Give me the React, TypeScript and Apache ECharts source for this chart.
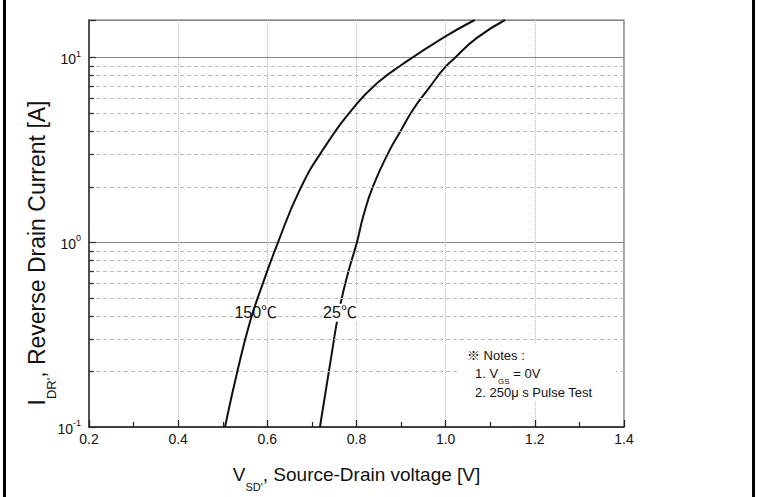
import React, { useEffect, useRef } from "react";
import * as echarts from "echarts";

// 150 °C curve (V_SD [V], I_DR [A])
const v150 = [0.505, 0.534, 0.561, 0.583, 0.624, 0.673, 0.725, 0.800, 0.850, 0.900, 0.994, 1.065];
const i150 = [0.1, 0.206, 0.37, 0.537, 1.0, 1.93, 3.18, 5.6, 7.4, 9.1, 12.8, 16.0];
// 25 °C curve
const v25 = [0.718, 0.746, 0.756, 0.770, 0.785, 0.801, 0.815, 0.837, 0.875, 0.897, 0.927, 0.965, 0.994, 1.021, 1.070, 1.133];
const i25 = [0.1, 0.263, 0.37, 0.537, 0.74, 1.0, 1.38, 2.01, 3.18, 3.93, 5.24, 6.97, 8.61, 10.0, 12.8, 16.0];

const xMin = 0.2;
const xMax = 1.4;
const xStep = 0.2;
const yMin = 0.1;
const yMax = 16;
const minorY = [0.2, 0.3, 0.4, 0.5, 0.6, 0.7, 0.8, 0.9, 2, 3, 4, 5, 6, 7, 8, 9];

const curveLabels = [
  { name: "150℃", v: 0.574, i: 0.415 },
  { name: "25℃", v: 0.763, i: 0.415 },
];
const noteLines = ["※ Notes :", "{t|1. V}{s|GS}{t| = 0V}", "2. 250μ s Pulse Test"];
const xTitle = "{m|V}{s|SD'}{m|, Source-Drain voltage [V]}";
const yTitle = "{m|I}{s|DR'}{m|, Reverse Drain Current [A]}";

const FONT = "'Liberation Sans', Arial, 'Noto Sans CJK SC', sans-serif";

export default function App() {
  const ref = useRef<HTMLDivElement>(null);
  useEffect(() => {
    const chart = echarts.init(ref.current!, null, { renderer: "svg" });
    const tickLen = 0.011;
    const gridLines = minorY.map((m) => [
      { coord: [xMin, m], lineStyle: { color: "#bbb", type: [4, 3], width: 1 } },
      { coord: [xMax, m] },
    ]);
    const minorTicks = minorY.map((m) => [
      { coord: [xMin, m], lineStyle: { color: "#333", type: "solid", width: 1.3 } },
      { coord: [xMin + tickLen, m] },
    ]);
    chart.setOption({
      animation: false,
      backgroundColor: "#fff",
      textStyle: { fontFamily: FONT },
      grid: {
        left: 89,
        right: 135,
        top: 20,
        bottom: 69,
        show: true,
        borderColor: "#666",
        borderWidth: 1.2,
        backgroundColor: "transparent",
      },
      xAxis: {
        type: "value",
        min: xMin,
        max: xMax,
        interval: xStep,
        axisLine: { lineStyle: { color: "#222", width: 1.5 } },
        axisTick: { inside: true, length: 7, lineStyle: { color: "#222", width: 1.3 } },
        minorTick: { show: true, splitNumber: 2, length: 5, lineStyle: { color: "#222", width: 1.2 } },
        splitLine: { show: true, lineStyle: { type: "dotted", color: "#bbb", width: 1 } },
        axisLabel: {
          formatter: (v: number) => v.toFixed(1),
          fontSize: 14,
          color: "#111",
          margin: 5,
          fontFamily: FONT,
        },
        name: xTitle,
        nameLocation: "middle",
        nameGap: 38,
        nameTextStyle: {
          rich: {
            m: { fontSize: 19, color: "#111", fontFamily: FONT, lineHeight: 22, verticalAlign: "top" },
            s: { fontSize: 11, color: "#111", fontFamily: FONT, lineHeight: 27, verticalAlign: "bottom" },
          },
        },
      },
      yAxis: {
        type: "log",
        logBase: 10,
        min: yMin,
        max: yMax,
        axisLine: { show: true, lineStyle: { color: "#333", width: 1.5 } },
        axisTick: { show: true, inside: true, length: 7, lineStyle: { color: "#333", width: 1.3 } },
        splitLine: { show: true, lineStyle: { color: "#888", width: 1 } },
        axisLabel: {
          margin: 8,
          formatter: (v: number) => {
            const l = Math.log10(v);
            const e = Math.round(l);
            if (Math.abs(l - e) > 1e-6) return "";
            return `{b|10}{s|${e}}`;
          },
          rich: {
            b: { fontSize: 14, color: "#111", fontFamily: FONT, lineHeight: 17, verticalAlign: "bottom" },
            s: { fontSize: 9, color: "#111", fontFamily: FONT, lineHeight: 10, verticalAlign: "top" },
          },
        },
      },
      series: [
        {
          type: "line",
          name: "150℃",
          data: v150.map((v, k) => [v, i150[k]]),
          smooth: 0.5,
          showSymbol: false,
          clip: true,
          lineStyle: { color: "#111", width: 2 },
          z: 5,
          markLine: {
            silent: true,
            symbol: ["none", "none"],
            label: { show: false },
            animation: false,
            data: [...gridLines, ...minorTicks],
          },
          markPoint: {
            symbol: "rect",
            symbolSize: 1,
            itemStyle: { color: "transparent" },
            label: {
              show: true,
              position: "inside",
              formatter: (p: any) => p.name,
              fontSize: 16,
              color: "#111",
              backgroundColor: "#fff",
              padding: [1, 1],
              fontFamily: FONT,
            },
            data: curveLabels.map((c) => ({ name: c.name, coord: [c.v, c.i] })),
          },
        },
        {
          type: "line",
          name: "25℃",
          data: v25.map((v, k) => [v, i25[k]]),
          smooth: 0.5,
          showSymbol: false,
          clip: true,
          lineStyle: { color: "#111", width: 2 },
          z: 4,
        },
      ],
      graphic: [
        { type: "rect", shape: { x: 3, y: 0, width: 3, height: 497 }, style: { fill: "#000" } },
        { type: "rect", shape: { x: 752, y: 0, width: 3, height: 497 }, style: { fill: "#000" } },
        {
          type: "text",
          x: 42,
          y: 253,
          rotation: Math.PI / 2,
          style: {
            text: yTitle,
            align: "center",
            verticalAlign: "middle",
            rich: {
              m: { fontSize: 23, fill: "#111", fontFamily: FONT, lineHeight: 26, verticalAlign: "top" },
              s: { fontSize: 13, fill: "#111", fontFamily: FONT, lineHeight: 33, verticalAlign: "bottom" },
            },
          },
        },
        {
          type: "rect",
          z: 20,
          shape: { x: 460, y: 344, width: 156, height: 58 },
          style: { fill: "#fff" },
        },
        {
          type: "text",
          z: 21,
          x: 467,
          y: 355,
          style: { text: noteLines[0], fontSize: 13, fill: "#111", fontFamily: FONT, verticalAlign: "middle" },
        },
        {
          type: "text",
          z: 21,
          x: 475,
          y: 376,
          style: {
            text: noteLines[1],
            verticalAlign: "middle",
            rich: {
              t: { fontSize: 13, fill: "#111", fontFamily: FONT, lineHeight: 15, verticalAlign: "top" },
              s: { fontSize: 8, fill: "#111", fontFamily: FONT, lineHeight: 19, verticalAlign: "bottom" },
            },
          },
        },
        {
          type: "text",
          z: 21,
          x: 475,
          y: 392,
          style: { text: noteLines[2], fontSize: 13, fill: "#111", fontFamily: FONT, verticalAlign: "middle" },
        },
      ],
    });
    return () => chart.dispose();
  }, []);
  return (
    <div
      ref={ref}
      style={{ position: "absolute", left: 0, top: 0, width: 759, height: 497 }}
    />
  );
}
